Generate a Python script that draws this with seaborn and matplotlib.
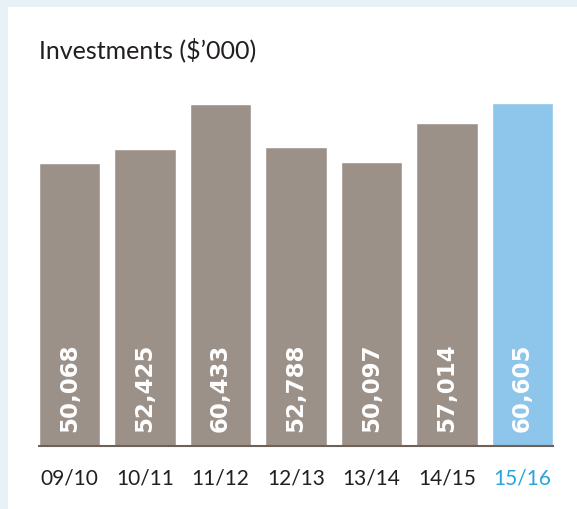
import matplotlib
matplotlib.use('Agg')
import matplotlib.pyplot as plt
import seaborn as sns
import pandas as pd

# data
years = ['09/10', '10/11', '11/12', '12/13', '13/14', '14/15', '15/16']
values = [50068, 52425, 60433, 52788, 50097, 57014, 60605]
bar_colors = ['#9c9189'] * 6 + ['#8ec5eb']
label_colors = ['#231f20'] * 6 + ['#29a3dc']

sns.set_style('white')
plt.rcParams['font.family'] = ['Lato', 'DejaVu Sans']

fig = plt.figure(figsize=(5.77, 5.09), dpi=100)
fig.patch.set_facecolor('#e8f1f5')
# white card
fig.add_artist(plt.Rectangle((8 / 577, 0), 1, (509 - 7) / 509,
                             transform=fig.transFigure, facecolor='white',
                             edgecolor='none', zorder=0))

ax = fig.add_axes([39 / 577, 63 / 509, 514 / 577, 368 / 509])
ax.set_facecolor('none')

df = pd.DataFrame({'year': years, 'value': values})
sns.barplot(data=df, x='year', y='value', hue='year', palette=bar_colors,
            legend=False, width=0.81, saturation=1, ax=ax)

ax.set_xlim(-0.405, len(years) - 1 + 0.405)
ax.set_ylim(0, 65000)
ax.set_xlabel('')
ax.set_ylabel('')
ax.set_yticks([])
for s in ['top', 'left', 'right']:
    ax.spines[s].set_visible(False)
ax.spines['bottom'].set_color('#6e6157')
ax.spines['bottom'].set_linewidth(1.5)
ax.tick_params(axis='x', length=0, pad=16, labelsize=15)
for lbl, c in zip(ax.get_xticklabels(), label_colors):
    lbl.set_color(c)

# value labels inside bars
for i, v in enumerate(values):
    ax.annotate(f'{v:,}', xy=(i, 0), xytext=(0, 10), textcoords='offset points',
                rotation=90, ha='center', va='bottom', color='white',
                fontsize=16.5, fontweight='bold', family='DejaVu Sans')

fig.text(39 / 577, 1 - 58 / 509, 'Investments ($\u2019000)', fontsize=18,
         color='#231f20', ha='left', va='baseline')

plt.savefig('out.png', dpi=100, facecolor=fig.get_facecolor())
